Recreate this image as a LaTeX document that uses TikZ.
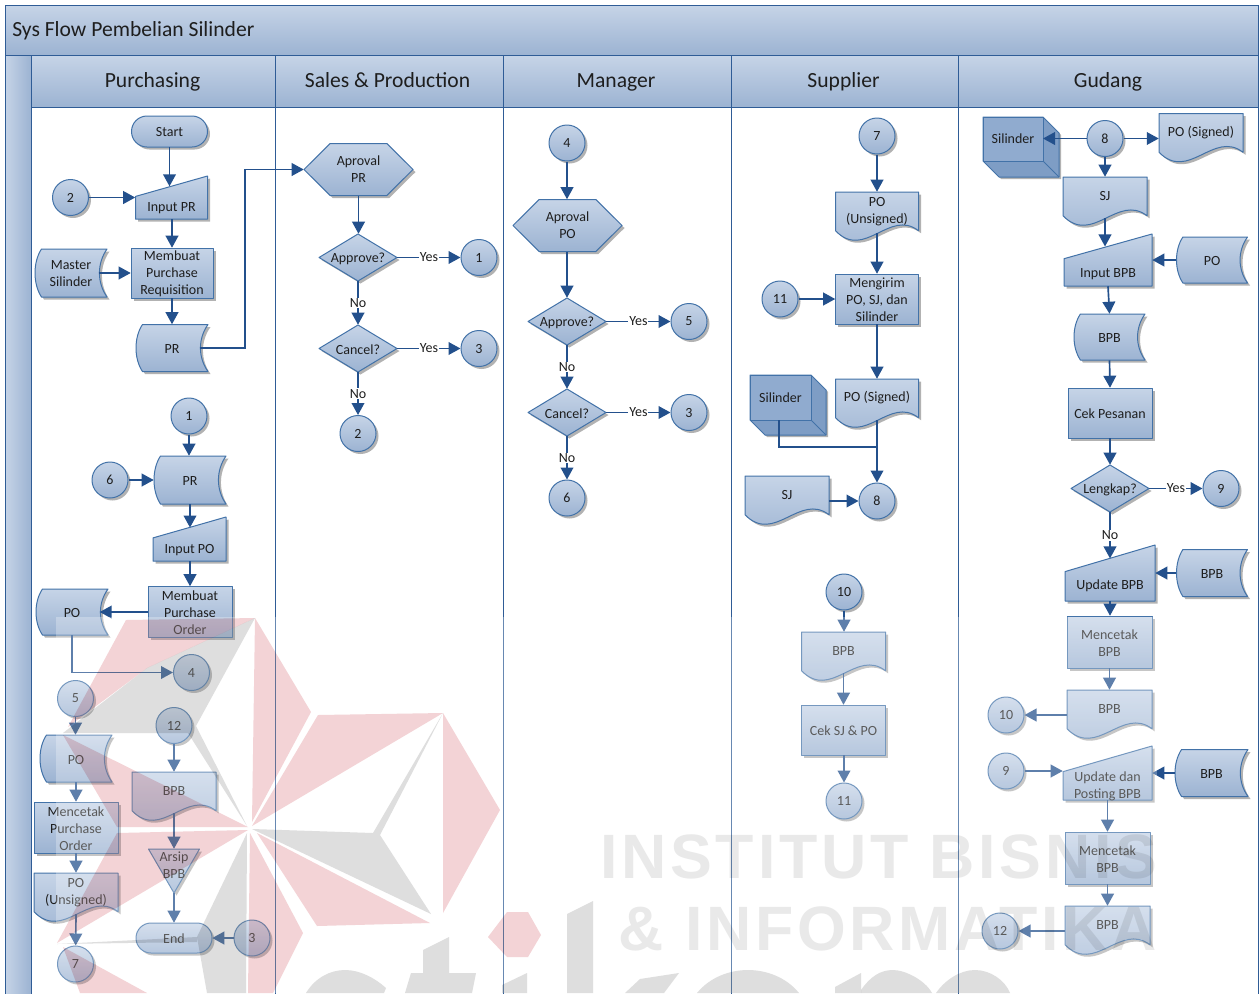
\documentclass[tikz,border=0pt]{standalone}
\usepackage{fontspec}
\setmainfont{Carlito}
\newfontfamily\wmfont[LetterSpace=6]{Liberation Sans}
\usetikzlibrary{arrows.meta}
\definecolor{topc}{HTML}{C6D4E7}
\definecolor{botc}{HTML}{9CB3D2}
\definecolor{edgec}{HTML}{4272A8}
\definecolor{framec}{HTML}{2F5C96}
\definecolor{linec}{HTML}{23508C}
\definecolor{cubef}{HTML}{90ABCF}
\definecolor{cubes}{HTML}{7E9DC5}
\definecolor{txtc}{HTML}{1E1E1E}
\definecolor{wmred}{HTML}{F3D3D6}
\definecolor{wmgray}{HTML}{DEDEDE}
\definecolor{wmtxt}{HTML}{E9E9E9}
\tikzset{
  x=0.75pt,y=-0.75pt,
  body/.style={draw=edgec,line width=0.75pt,top color=topc,bottom color=botc,line join=round},
  shade3/.style={fill=black,opacity=0.3,draw=none},
  arr/.style={draw=linec,line width=1.25pt,-{Triangle[length=9pt,width=9.5pt]}},
  seg/.style={draw=linec,line width=1.25pt},
  lbl/.style={font=\fontsize{10.5}{12.75}\selectfont,text=txtc,align=center,inner sep=0pt},
  elbl/.style={lbl,fill=white,inner sep=0.6pt},
  lane/.style={draw=framec,line width=0.7pt},
  band/.style={draw=framec,line width=0.75pt,top color=topc,bottom color=botc},
  head/.style={font=\fontsize{16.2}{19}\selectfont,text=txtc,inner sep=0pt,anchor=base},
}
\def\pathrect{(-\hw,-\hh) rectangle (\hw,\hh)}
\def\pathterm{[rounded corners=\hh*0.75pt] (-\hw,-\hh) rectangle (\hw,\hh)}
\def\pathdoc{(-\hw,-\hh) -- (\hw,-\hh) -- (\hw,0.55*\hh) .. controls (0.3*\hw,-0.35*\hh) and (-0.3*\hw,1.75*\hh) .. (-\hw,0.55*\hh) -- cycle}
\def\pathstore{(-0.82*\hw,-\hh) -- (\hw,-\hh) .. controls (0.72*\hw,-0.4*\hh) and (0.72*\hw,0.4*\hh) .. (\hw,\hh) -- (-0.82*\hw,\hh) .. controls (-1.06*\hw,0.45*\hh) and (-1.06*\hw,-0.45*\hh) .. (-0.82*\hw,-\hh) -- cycle}
\def\pathmanual{(-\hw,-0.05*\hh) -- (\hw,-\hh) -- (\hw,\hh) -- (-\hw,\hh) -- cycle}
\def\pathhex{(-\hw,0) -- (-0.52*\hw,-\hh) -- (0.52*\hw,-\hh) -- (\hw,0) -- (0.52*\hw,\hh) -- (-0.52*\hw,\hh) -- cycle}
\def\pathdia{(-\hw,0) -- (0,-\hh) -- (\hw,0) -- (0,\hh) -- cycle}
\def\pathtri{(-\hw,-\hh) -- (\hw,-\hh) -- (0,\hh) -- cycle}
% #1 type, #2 name, #3 cx, #4 cy, #5 w, #6 h, #7 text yshift px, #8 text
\newcommand{\shp}[8]{%
  \begin{scope}[shift={(#3,#4)}]
    \pgfmathsetmacro\hw{#5/2}\pgfmathsetmacro\hh{#6/2}
    \begin{scope}[shift={(2.5,2.5)}]
      \path[shade3] \csname path#1\endcsname;
    \end{scope}
    \path[body] \csname path#1\endcsname;
    \node[inner sep=0pt,minimum width=#5*0.75pt,minimum height=#6*0.75pt] (#2) at (0,0) {};
    \node[lbl] (#2-l) at (0,#7+1) {#8};
    \coordinate (#2-r) at (0.77*\hw,0);
    \coordinate (#2-b) at (0,0.64*\hh);
    \coordinate (#2-t) at (0,-0.52*\hh);
  \end{scope}}
% circle with a real circular border
\newcommand{\conn}[4]{%
  \begin{scope}[shift={(#2,#3)}]
    \path[shade3] (2.5,2.5) circle [radius=18];
    \node[circle,body,minimum size=36*0.75pt,inner sep=0pt,lbl] (#1) at (0,0) {#4};
  \end{scope}}
% cube: #1 name, #2 left, #3 top, #4 front w, #5 front h, #6 depth, #7 text
\newcommand{\cubeb}[7]{%
  \begin{scope}[shift={(#2,#3)}]
    \path[shade3] (2,2) -- (#4+2,2) -- (#4+#6+2,#6+2) -- (#4+#6+2,#5+#6+2) -- (#6+2,#5+#6+2) -- (2,#5+2) -- cycle;
    \path[draw=edgec,line width=0.75pt,fill=cubes,line join=round] (0,0) -- (#4,0) -- (#4+#6,#6) -- (#4+#6,#5+#6) -- (#6,#5+#6) -- (0,#5) -- cycle;
    \path[draw=edgec,line width=0.75pt,fill=cubef] (0,0) rectangle (#4,#5);
    \draw[edgec,line width=0.75pt] (#4,#5) -- (#4+#6,#5+#6);
    \node[lbl] (#1) at (#4/2,#5/2) {#7};
    \coordinate (#1-fb) at (0.48*#4,#5);
    \coordinate (#1-fr) at (#4,#5/2);
  \end{scope}}
\begin{document}
\begin{tikzpicture}
\useasboundingbox (0,0) rectangle (1259,993);
\fill[white] (0,0) rectangle (1259,993);
% frame and lanes
\path[lane] (31,107) rectangle (1258,1000);
\foreach \xx in {275,503,731,958} \draw[lane] (\xx,107) -- (\xx,1000);
\path[band] (5,5) rectangle (1258,55);
\node[head,anchor=base west] (title) at (12,36) {Sys Flow Pembelian Silinder};
\path[lane,left color=topc,right color=botc] (5,55) rectangle (31,1000);
\path[band] (31,55) rectangle (275,107);
\path[band] (275,55) rectangle (503,107);
\path[band] (503,55) rectangle (731,107);
\path[band] (731,55) rectangle (958,107);
\path[band] (958,55) rectangle (1258,107);
\node[head] (h1) at (152.5,87) {Purchasing};
\node[head] (h2) at (387.5,87) {Sales \& Production};
\node[head] (h3) at (616,87) {Manager};
\node[head] (h4) at (843.5,87) {Supplier};
\node[head] (h5) at (1108,87) {Gudang};

% ---- Purchasing
\shp{term}{start}{169.5}{131.5}{76}{31}{0}{Start}
\conn{ca2}{70.5}{197.5}{2}
\shp{manual}{ipr}{171.5}{197.5}{72}{43}{10}{Input PR}
\shp{store}{ms}{71}{273}{72}{48}{0}{Master\\Silinder}
\shp{rect}{mpr}{172}{273}{82}{50}{0}{Membuat\\Purchase\\Requisition}
\shp{store}{pr}{172}{348}{72}{47}{0}{PR}
\conn{ca1}{189}{416}{1}
\conn{ca6}{110}{480}{6}
\shp{store}{prb}{190}{480}{72}{48}{0}{PR}
\shp{manual}{ipo}{189.5}{539}{73}{44}{10}{Input PO}
\shp{rect}{mpo}{190}{612}{84}{51}{0}{Membuat\\Purchase\\Order}
\shp{store}{po}{72}{612}{72}{46}{0}{PO}
\conn{ca4}{191.5}{672.5}{4}
\conn{ca5}{75.5}{698.5}{5}
\shp{store}{pob}{76}{758.5}{72}{47}{0}{PO}
\shp{rect}{mco}{76}{827.5}{84}{51}{0}{Mencetak\\Purchase\\Order}
\shp{doc}{pou}{76}{898}{84}{50}{-6}{PO\\(Unsigned)}
\conn{ca7}{75.5}{964}{7}
\conn{ca12}{174}{725.5}{12}
\shp{doc}{bpbp}{174}{797}{84}{50}{-7}{BPB}
\shp{tri}{arsip}{174}{871}{51}{44}{-7}{Arsip\\BPB}
\shp{term}{endn}{174}{938}{76}{30}{0}{End}
\conn{cb3}{252}{938}{3}

% ---- Sales & Production
\shp{hex}{hexa}{358.5}{169.5}{109}{52}{-1}{Aproval\\PR}
\shp{dia}{appr}{358}{257.5}{78}{47}{0}{Approve?}
\conn{cb1}{479}{257.5}{1}
\shp{dia}{canc}{358}{348.5}{78}{47}{0}{Cancel?}
\conn{cc3}{479}{348.5}{3}
\conn{cb2}{358}{433.5}{2}

% ---- Manager
\conn{cb4}{567}{143}{4}
\shp{hex}{hexb}{567.5}{225.5}{109}{52}{-1}{Aproval\\PO}
\shp{dia}{apprb}{567}{321.5}{78}{47}{0}{Approve?}
\conn{cb5}{689}{321.5}{5}
\shp{dia}{cancb}{567}{412.5}{78}{47}{0}{Cancel?}
\conn{cd3}{689}{412.5}{3}
\conn{cb6}{567}{498}{6}

% ---- Supplier
\conn{cb7}{877}{136}{7}
\shp{doc}{pouS}{877}{217}{83}{50}{-6}{PO\\(Unsigned)}
\shp{rect}{meng}{877}{299}{83}{50}{0}{Mengirim\\PO, SJ, dan\\Silinder}
\conn{cb11}{780}{299}{11}
\shp{doc}{posS}{877}{404}{83}{50}{-7}{PO (Signed)}
\cubeb{cubeS}{750}{375}{61}{45}{15}{Silinder}
\conn{cb8}{877}{501}{8}
\shp{doc}{sjS}{787}{501}{84}{50}{-7}{SJ}
\coordinate (j8) at (877,447);
\conn{cb10}{844}{592}{10}
\shp{doc}{bpbS}{843.5}{657}{84}{50}{-7}{BPB}
\shp{rect}{ceksj}{843.5}{730}{84}{50}{0}{Cek SJ \& PO}
\conn{cc11}{844}{801}{11}

% ---- Gudang
\cubeb{cubeG}{983}{117}{60}{44}{16}{Silinder}
\conn{cc8}{1105}{138.5}{8}
\shp{doc}{posG}{1201}{138.5}{84}{50}{-7}{PO (Signed)}
\shp{doc}{sjG}{1105}{202}{84}{50}{-7}{SJ}
\shp{manual}{ibp}{1108}{260}{88}{52}{13}{Input BPB}
\shp{store}{poG}{1212}{260}{71}{46}{0}{PO}
\shp{store}{bpbA}{1109.5}{337}{71}{46}{0}{BPB}
\shp{rect}{cekp}{1110}{413}{84}{50}{0}{Cek Pesanan}
\shp{dia}{leng}{1110}{488.5}{78}{47}{0}{Lengkap?}
\conn{cb9}{1221}{488.5}{9}
\shp{manual}{ubp}{1110}{573}{90}{56}{12}{Update BPB}
\shp{store}{bpbB}{1212}{573}{71}{47}{0}{BPB}
\shp{rect}{mbp}{1109.5}{642}{85}{52}{0}{Mencetak\\BPB}
\shp{doc}{bpbC}{1109.5}{715}{85}{50}{-7}{BPB}
\conn{cc10}{1006}{715}{10}
\conn{cc9}{1006}{771}{9}
\shp{manual}{upb}{1107.5}{773}{89}{54}{12}{Update dan\\Posting BPB}
\shp{store}{bpbD}{1211.5}{773}{73}{47}{0}{BPB}
\shp{rect}{mbq}{1107.5}{858}{85}{52}{0}{Mencetak\\BPB}
\shp{doc}{bpbE}{1107.5}{931}{85}{50}{-7}{BPB}
\conn{cc12}{1000}{931}{12}

% ---- connectors
\coordinate (prbend) at (245,348);
\draw[arr] (start.south) -- (start.south |- ipr-t);
\draw[arr] (ca2) -- (ca2 -| ipr.west);
\draw[arr] (mpr.north |- ipr.south) -- (mpr.north);
\draw[arr] (ms-r) -- (mpr.west);
\draw[arr] (mpr.south) -- (pr.north);
\draw[arr] (pr-r) -- (prbend) |- (hexa.west);
\draw[arr] (ca1) -- (ca1 |- prb.north);
\draw[arr] (ca6) -- (prb.west);
\draw[arr] (prb.south) -- (prb.south |- ipo-t);
\draw[arr] (mpo.north |- ipo.south) -- (mpo.north);
\draw[arr] (mpo.west) -- (po-r);
\draw[arr] (po.south) |- (ca4);
\draw[arr] (ca5) -- (ca5 |- pob.north);
\draw[arr] (pob.south) -- (mco.north);
\draw[arr] (mco.south) -- (pou.north);
\draw[arr] (pou-b) -- (ca7);
\draw[arr] (ca12) -- (bpbp.north);
\draw[arr] (bpbp-b) -- (arsip.north);
\draw[arr] (arsip.south) -- (endn.north);
\draw[arr] (cb3) -- (endn.east);
\draw[arr] (hexa.south) -- (hexa.south |- appr.north);
\draw[arr] (appr.east) -- node[elbl] (y1) {Yes} (cb1);
\draw[arr] (appr.south) -- node[elbl] (n1) {No} (canc.north);
\draw[arr] (canc.east) -- node[elbl] (y2) {Yes} (cc3);
\draw[arr] (canc.south) -- node[elbl] (n2) {No} (cb2);
\draw[arr] (cb4) -- (cb4 |- hexb.north);
\draw[arr] (apprb.north |- hexb.south) -- (apprb.north);
\draw[arr] (apprb.east) -- node[elbl] (y3) {Yes} (cb5);
\draw[arr] (apprb.south) -- node[elbl] (n3) {No} (cancb.north);
\draw[arr] (cancb.east) -- node[elbl] (y4) {Yes} (cd3);
\draw[arr] (cancb.south) -- node[elbl] (n4) {No} (cb6);
\draw[arr] (cb7) -- (pouS.north);
\draw[arr] (pouS-b) -- (meng.north);
\draw[arr] (cb11) -- (meng.west);
\draw[arr] (meng.south) -- (posS.north);
\draw[arr] (posS-b) -- (cb8);
\draw[seg] (cubeS-fb) |- (j8);
\draw[arr] (sjS.east) -- (cb8);
\draw[arr] (cb10) -- (cb10 |- bpbS.north);
\draw[arr] (bpbS-b) -- (ceksj.north);
\draw[arr] (cc11 |- ceksj.south) -- (cc11);
\draw[arr] (cc8) -- (cc8 -| cubeG-fr);
\draw[arr] (cc8) -- (posG.west);
\draw[arr] (cc8) -- (sjG.north);
\draw[arr] (sjG-b) -- (sjG-b |- ibp-t);
\draw[arr] (poG.west) -- (ibp.east);
\draw[arr] (ibp.south) -- (bpbA.north);
\draw[arr] (bpbA.south) -- (cekp.north);
\draw[arr] (cekp.south) -- (leng.north);
\draw[arr] (leng.east) -- node[elbl] (y5) {Yes} (cb9);
\draw[arr] (leng.south) -- node[elbl] (n5) {No} (leng.south |- ubp-t);
\draw[arr] (bpbB.west) -- (ubp.east);
\draw[arr] (ubp.south) -- (ubp.south |- mbp.north);
\draw[arr] (mbp.south) -- (bpbC.north);
\draw[arr] (bpbC.west) -- (cc10);
\draw[arr] (cc9) -- (cc9 -| upb.west);
\draw[arr] (bpbD.west) -- (upb.east);
\draw[arr] (upb.south) -- (mbq.north);
\draw[arr] (mbq.south) -- (bpbE.north);
\draw[arr] (bpbE.west) -- (cc12);

% ---- watermark over the lower part of the chart
\fill[white,opacity=0.27] (56,617) rectangle (1157,993);
\begin{scope}
\pgfsetblendmode{multiply}
\fill[wmred] (126,620) -- (255,618) -- (147,668) -- (68,727) -- cycle;
\fill[wmgray] (255,618) -- (147,668) -- (63,733) -- (188,733) -- (247,826) -- (196,726) -- cycle;
\fill[wmred] (255,618) -- (311,712) -- (252,822) -- cycle;
\fill[wmred] (318,715) -- (443,713) -- (252,826) -- cycle;
\fill[wmgray] (252,829) -- (373,833) -- (443,713) -- (380,835) -- (431,914) -- cycle;
\fill[wmred] (443,713) -- (500,810) -- (443,913) -- cycle;
\fill[wmred] (257,833) -- (430,923) -- (317,926) -- cycle;
\fill[wmred] (250,833) -- (303,933) -- (273,993) -- (248,993) -- cycle;
\fill[wmred] (63,735) -- (248,827) -- (117,827) -- cycle;
\fill[wmred] (117,833) -- (248,830) -- (57,943) -- cycle;
\fill[wmred] (63,947) -- (147,993) -- (80,993) -- cycle;
\fill[wmgray] (197,937) -- (247,833) -- (246,993) -- (207,993) -- cycle;
\fill[wmgray] (57,944) -- (197,937) -- (197,942) -- cycle;
\fill[wmred] (488,937) -- (507,912) -- (528,912) -- (541,935) -- (528,957) -- (507,957) -- cycle;
% stikom, cut by the lower edge
\fill[wmgray] (306,993) .. controls (315,978) and (330,970) .. (345,970) .. controls (360,970) and (375,978) .. (386,988) -- (384,993) -- cycle;
\fill[wmgray] (423,950) -- (449,937) -- (449,973) -- (476,973) -- (472,993) -- (405,993) -- (411,973) -- (423,973) -- cycle;
\fill[wmgray] (502,985) -- (527,973) -- (527,993) -- (502,993) -- cycle;
\fill[wmgray] (567,914) -- (593,901) -- (593,993) -- (567,993) -- cycle;
\fill[wmgray] (640,979) -- (679,973) -- (664,993) -- (625,993) -- cycle;
\fill[wmgray] (697,993) .. controls (710,977) and (730,970) .. (748,970) .. controls (766,970) and (786,977) .. (799,993) -- cycle;
\fill[wmgray] (835,987) -- (861,973) -- (861,993) -- (835,993) -- cycle;
\fill[wmgray] (861,990) .. controls (870,977) and (880,970) .. (893,970) .. controls (905,970) and (925,980) .. (932,993) -- (861,993) -- cycle;
\fill[wmgray] (936,993) .. controls (945,980) and (960,970) .. (975,970) .. controls (990,970) and (1005,980) .. (1010,993) -- cycle;
\node[font=\wmfont\bfseries\fontsize{47}{50}\selectfont,text=wmtxt,anchor=base west,inner sep=0pt] (wm1) at (600,878) {INSTITUT BISNIS};
\node[font=\wmfont\bfseries\fontsize{47}{50}\selectfont,text=wmtxt,anchor=base east,inner sep=0pt] (wm2) at (1157,950) {\& INFORMATIKA};
\end{scope}
\end{tikzpicture}
\end{document}
